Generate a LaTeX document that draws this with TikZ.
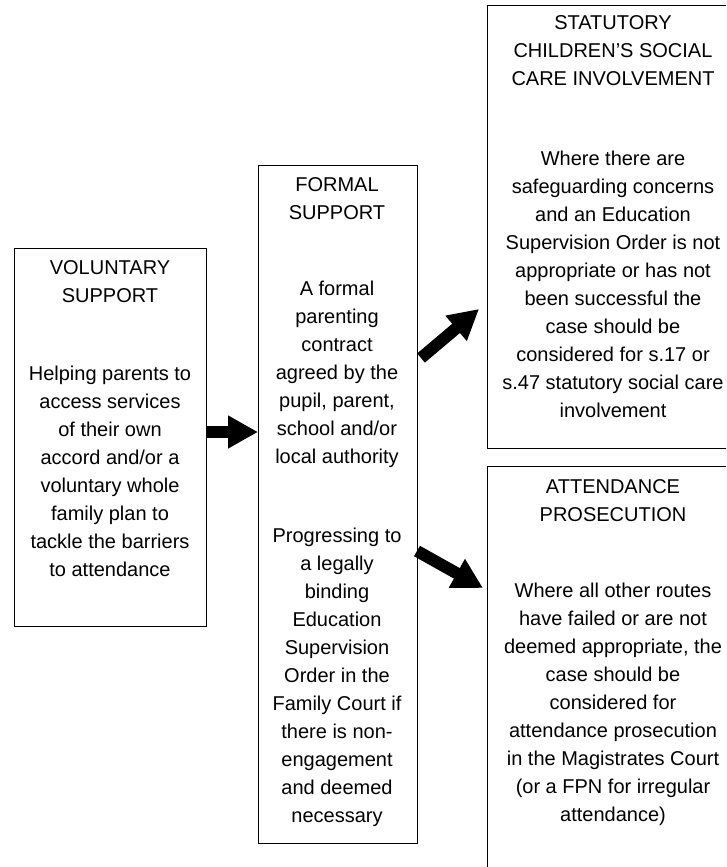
\documentclass[tikz,border=0pt]{standalone}
\usepackage{fontspec}
\setmainfont{Liberation Sans}
\usetikzlibrary{arrows.meta}
\begin{document}
\begin{tikzpicture}[x=1pt,y=-1pt,
  box/.style={draw=black, line width=1.3pt, inner sep=0pt, anchor=north west},
  txt/.style={align=center, font=\fontsize{20}{28}\selectfont, inner sep=0pt, text=black},
  fat/.style={line width=12pt, -{Triangle[width=31pt,length=30pt]}}]
\useasboundingbox (0,0) rectangle (726,867);
\fill[white] (0,0) rectangle (726,867);
\clip (0,0) rectangle (726,867);
% boxes
\node[box, minimum width=192pt, minimum height=378pt] (vol) at (14,248) {};
\node[box, minimum width=159pt, minimum height=678pt] (formal) at (258,165) {};
\node[box, minimum width=260pt, minimum height=443pt] (stat) at (487,5) {};
\node[box, minimum width=260pt, minimum height=420pt] (att) at (487,466) {};
% texts
\node[txt] (volT) at (110,282) {VOLUNTARY\\SUPPORT};
\node[txt] (volB) at (110,471) {Helping parents to\\access services\\of their own\\accord and/or a\\voluntary whole\\family plan to\\tackle the barriers\\to attendance};
\node[txt] (forT) at (337,199) {FORMAL\\SUPPORT};
\node[txt] (forB1) at (337,374) {A formal\\parenting\\contract\\agreed by the\\pupil, parent,\\school and/or\\local authority};
\node[txt] (forB2) at (337,677) {Progressing to\\a legally\\binding\\Education\\Supervision\\Order in the\\Family Court if\\there is non-\\engagement\\and deemed\\necessary};
\node[txt] (staT) at (613,51) {STATUTORY\\CHILDREN’S SOCIAL\\CARE INVOLVEMENT};
\node[txt] (staB) at (613,284) {Where there are\\safeguarding concerns\\and an Education\\Supervision Order is not\\appropriate or has not\\been successful the\\case should be\\considered for s.17 or\\s.47 statutory social care\\involvement};
\node[txt] (attT) at (613,501) {ATTENDANCE\\PROSECUTION};
\node[txt] (attB) at (613,704) {Where all other routes\\have failed or are not\\deemed appropriate, the\\case should be\\considered for\\attendance prosecution\\in the Magistrates Court\\(or a FPN for irregular\\attendance)};
% arrows
\coordinate (a1s) at (vol.east |- 0,432);
\coordinate (a1e) at (formal.west |- 0,432);
\coordinate (a2s) at (421,358);
\coordinate (a2e) at (479,309);
\coordinate (a3s) at (417,551);
\coordinate (a3e) at (483,588);
\draw[fat] (a1s) -- (a1e);
\draw[fat] (a2s) -- (a2e);
\draw[fat] (a3s) -- (a3e);
\end{tikzpicture}
\end{document}
